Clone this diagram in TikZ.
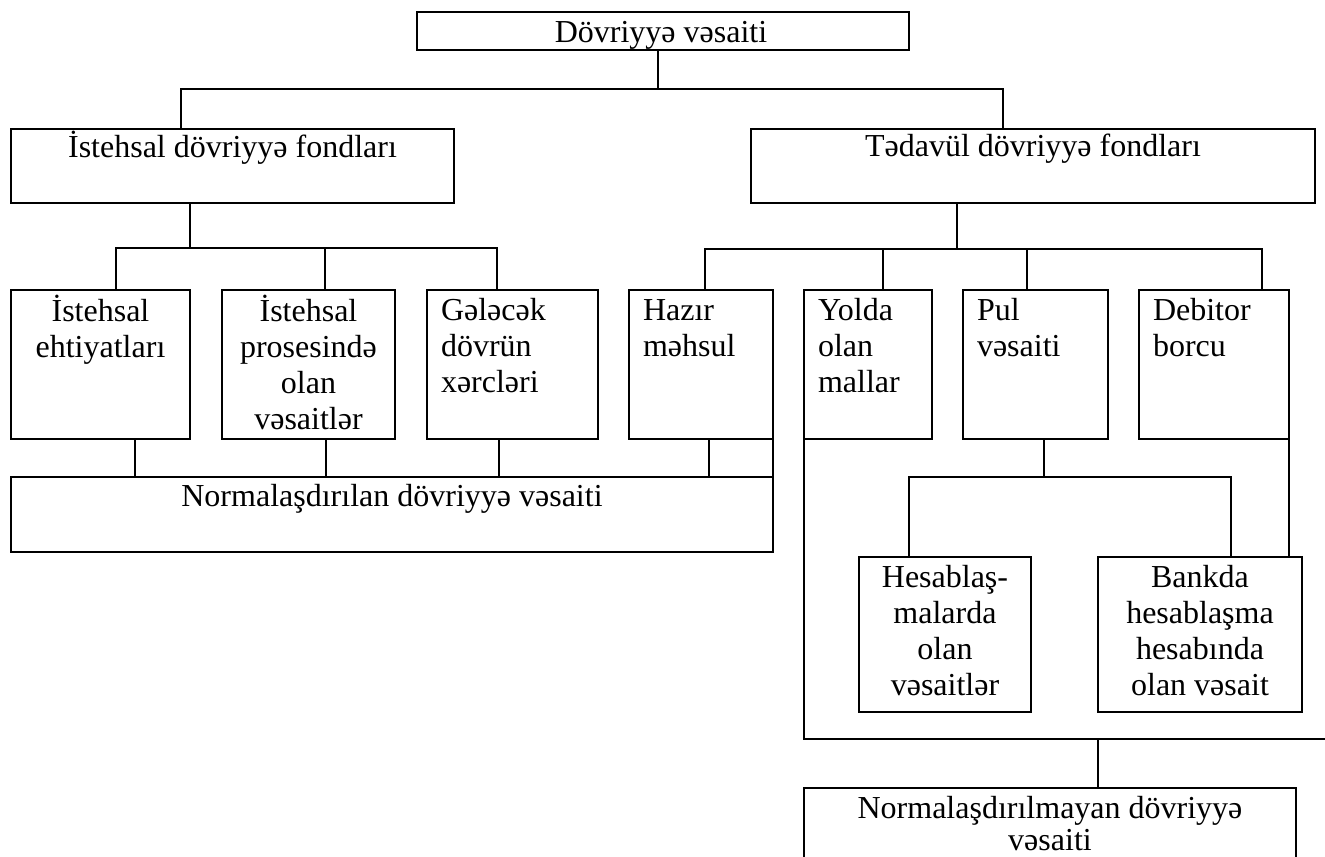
\documentclass[tikz,border=0pt]{standalone}
\usepackage{fontspec}
\setmainfont{Liberation Serif}
\usetikzlibrary{calc}
\begin{document}
\begin{tikzpicture}[x=0.75pt, y=-0.75pt, line width=1.5pt,
  box/.style={draw, rectangle, inner sep=0pt, outer sep=0pt, anchor=north west},
  sz/.style 2 args={minimum width=#1*0.75pt, minimum height=#2*0.75pt},
  lbl/.style={inner sep=0pt, outer sep=0pt, font=\fontsize{24}{27}\selectfont},
  lblc/.style={lbl, align=center, anchor=north},
  lbll/.style={lbl, align=left, anchor=north west}]
\clip (0,0) rectangle (1325,857);
\fill[white] (0,0) rectangle (1325,857);

% boxes
\node[box, sz={492}{38}]  (top) at (417,12)  {};
\node[box, sz={443}{74}]  (L)   at (11,129)  {};
\node[box, sz={564}{74}]  (R)   at (751,129) {};
\node[box, sz={179}{149}] (b1)  at (11,290)  {};
\node[box, sz={173}{149}] (b2)  at (222,290) {};
\node[box, sz={171}{149}] (b3)  at (427,290) {};
\node[box, sz={144}{149}] (b4)  at (629,290) {};
\node[box, sz={128}{149}] (b5)  at (804,290) {};
\node[box, sz={145}{149}] (b6)  at (963,290) {};
\node[box, sz={150}{149}] (b7)  at (1139,290) {};
\node[box, sz={762}{75}]  (N1)  at (11,477)  {};
\node[box, sz={172}{155}] (h1)  at (859,557) {};
\node[box, sz={204}{155}] (h2)  at (1098,557) {};
\node[box, sz={492}{120}] (N2)  at (804,788) {};

% labels
\node[lblc] (ttop) at ($(top.north)+(-2,5)$) {\strut Dövriyyə vəsaiti};
\node[lblc] (tL)   at ($(L.north)+(0,2)$)    {\strut İstehsal dövriyyə fondları};
\node[lblc] (tR)   at ($(R.north)+(0,2)$)    {\strut Tədavül dövriyyə fondları};
\node[lblc] (t1)   at ($(b1.north)+(0,5)$)   {\strut İstehsal\\ehtiyatları};
\node[lblc] (t2)   at ($(b2.north)+(0,5)$)   {\strut İstehsal\\prosesində\\olan\\vəsaitlər};
\node[lbll] (t3)   at ($(b3.north west)+(14,5)$) {\strut Gələcək\\dövrün\\xərcləri};
\node[lbll] (t4)   at ($(b4.north west)+(14,5)$) {\strut Hazır\\məhsul};
\node[lbll] (t5)   at ($(b5.north west)+(14,5)$) {\strut Yolda\\olan\\mallar};
\node[lbll] (t6)   at ($(b6.north west)+(14,5)$) {\strut Pul\\vəsaiti};
\node[lbll] (t7)   at ($(b7.north west)+(14,5)$) {\strut Debitor\\borcu};
\node[lblc] (tN1)  at ($(N1.north)+(0,4)$)   {\strut Normalaşdırılan dövriyyə vəsaiti};
\node[lblc] (th1)  at ($(h1.north)+(0,5)$)   {\strut Hesablaş-\\malarda\\olan\\vəsaitlər};
\node[lblc] (th2)  at ($(h2.north)+(0,5)$)   {\strut Bankda\\hesablaşma\\hesabında\\olan vəsait};
\node[lblc] (tN2)  at ($(N2.north)+(0,5)$)   {\strut Normalaşdırılmayan dövriyyə\\[-3pt]vəsaiti};

% level 1: top box to the two fund groups
\coordinate (bus0) at ($(top.south west)+(241,38.5)$);
\coordinate (aL) at ($(L.north west)+(170,0)$);
\coordinate (aR) at ($(R.north west)+(252,0)$);
\draw (top.south -| bus0) -- (bus0);
\draw (aL) |- (bus0) -| (aR);

% level 2, production funds
\coordinate (bus1) at ($(L.south west)+(179,45)$);
\coordinate (c1) at ($(b1.north west)+(105,0)$);
\coordinate (c2) at ($(b2.north west)+(103,0)$);
\coordinate (c3) at ($(b3.north west)+(70,0)$);
\draw (L.south -| bus1) -- (bus1);
\draw (c1) |- (bus1) -| (c3);
\draw (c2) -- (c2 |- bus1);

% level 2, circulation funds
\coordinate (bus2) at ($(R.south west)+(206,46)$);
\coordinate (c4) at ($(b4.north west)+(76,0)$);
\coordinate (c5) at ($(b5.north west)+(79,0)$);
\coordinate (c6) at ($(b6.north west)+(64,0)$);
\coordinate (c7) at ($(b7.north west)+(123,0)$);
\draw (R.south -| bus2) -- (bus2);
\draw (c4) |- (bus2) -| (c7);
\draw (c5) -- (c5 |- bus2);
\draw (c6) -- (c6 |- bus2);

% normalised working capital
\coordinate (d1) at ($(b1.south west)+(124,0)$);
\coordinate (d2) at ($(b2.south west)+(104,0)$);
\coordinate (d3) at ($(b3.south west)+(72,0)$);
\coordinate (d4) at ($(b4.south west)+(80,0)$);
\foreach \d in {d1,d2,d3,d4} \draw (\d) -- (\d |- N1.north);
\draw (b4.south east) -- (N1.north east);

% money: settlements and bank account
\coordinate (bus3) at ($(b6.south west)+(81,38)$);
\coordinate (e1) at ($(h1.north west)+(50,0)$);
\coordinate (e2) at ($(h2.north west)+(133,0)$);
\draw (b6.south -| bus3) -- (bus3);
\draw (e1) |- (bus3) -| (e2);
\draw (b7.south east) -- (b7.south east |- h2.north);

% non-normalised working capital
\coordinate (bus4) at ($(b5.south west)+(0,300)$);
\coordinate (busend) at (1330,739);
\coordinate (c8) at ($(N2.north west)+(294,0)$);
\draw (b5.south west) -- (bus4) -- (busend);
\draw (c8) -- (c8 |- bus4);
\end{tikzpicture}
\end{document}
